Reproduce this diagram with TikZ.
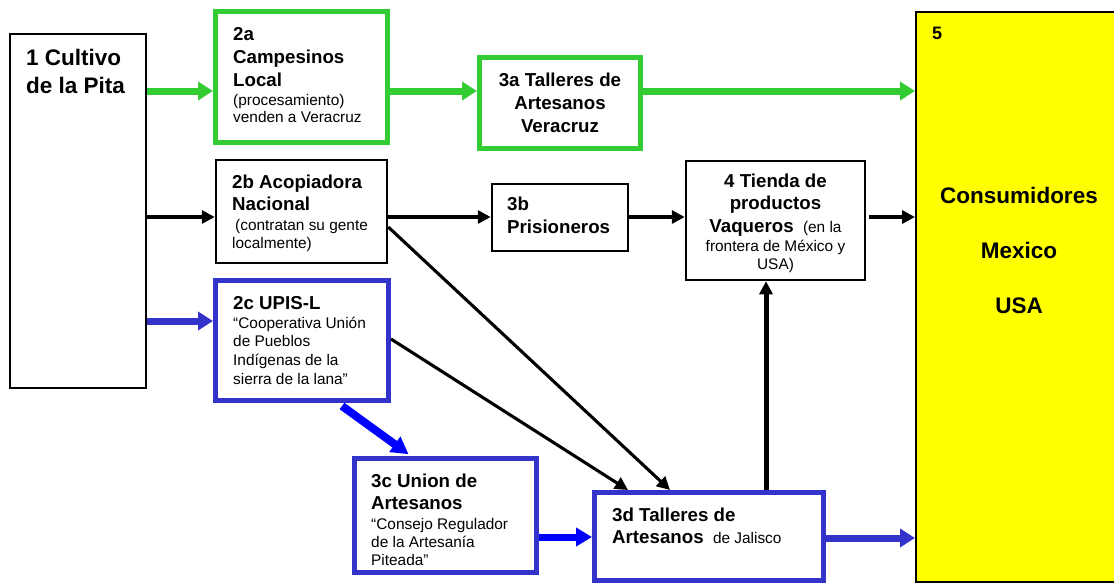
\documentclass[tikz,border=0pt]{standalone}
\usepackage{fontspec}
\setmainfont{Liberation Sans}
\usetikzlibrary{arrows.meta}
\definecolor{gr}{HTML}{33CC33}
\definecolor{bl}{HTML}{3333CC}
\definecolor{bb}{HTML}{0000FF}
\definecolor{yl}{HTML}{FFFF00}
\newcommand\fB{\fontsize{18.7}{23}\selectfont\bfseries}
\newcommand\fR{\fontsize{15.4}{17.7}\selectfont\mdseries}
\newcommand\fL{\fontsize{22.5}{28}\selectfont\bfseries}
\tikzset{
  kbox/.style={draw=black, line width=2.5pt, fill=white, inner sep=0pt},
  gbox/.style={draw=gr, line width=5pt, fill=white, inner sep=0pt},
  bbox/.style={draw=bl, line width=5pt, fill=white, inner sep=0pt},
  txt/.style={inner sep=0pt, font=\fB, align=left, anchor=north west},
  ctxt/.style={inner sep=0pt, font=\fB, align=center, anchor=north},
  garr/.style={draw=gr, line width=7pt, -{Triangle[length=15pt,width=18pt]}},
  karr/.style={draw=black, line width=4.7pt, -{Triangle[length=13pt,width=13pt]}},
  tarr/.style={draw=black, line width=3.1pt, -{Triangle[length=13pt,width=13pt]}},
  barr/.style={draw=bl, line width=7pt, -{Triangle[length=15pt,width=18pt]}},
  bbarr/.style={draw=bb, line width=7pt, -{Triangle[length=16pt,width=18pt]}}
}
\begin{document}
\begin{tikzpicture}[x=1pt, y=-1pt]
\useasboundingbox (0,0) rectangle (1114,584);
% boxes
\node[kbox, minimum width=136pt, minimum height=354pt] (b1) at (78,211) {};
\node[gbox, minimum width=172pt, minimum height=131pt] (b2a) at (301.5,77) {};
\node[gbox, minimum width=161pt, minimum height=91pt] (b3a) at (560,103) {};
\node[kbox, minimum width=171pt, minimum height=103pt] (b2b) at (301.5,211.5) {};
\node[kbox, minimum width=136pt, minimum height=67pt] (b3b) at (560,217.5) {};
\node[kbox, minimum width=179pt, minimum height=119pt] (b4) at (775.5,220.5) {};
\node[draw=black, line width=2pt, fill=yl, inner sep=0pt, minimum width=204pt, minimum height=570pt] (b5) at (1018,297) {};
\node[bbox, minimum width=173pt, minimum height=120pt] (b2c) at (302,340.5) {};
\node[bbox, minimum width=182pt, minimum height=114pt] (b3c) at (445.5,515.5) {};
\node[bbox, minimum width=229pt, minimum height=88pt] (b3d) at (709,536.5) {};
% texts
\node[txt, font=\fL] (t1) at (26,49) {1 Cultivo\\de la Pita};
\node[txt] (t2a) at (233,27) {2a\\Campesinos\\Local\\[-4pt]{\fR (procesamiento)}\\[-5.3pt]{\fR venden a Veracruz}};
\node[ctxt] (t3a) at (560,72.6) {3a Talleres de\\Artesanos\\Veracruz};
\node[txt] (t2b) at (232,175) {2b Acopiadora\\[-1pt]Nacional\\[-3pt]{\fR\hspace{3pt}(contratan su gente}\\[-5pt]{\fR localmente)}};
\node[txt] (t3b) at (507,196.6) {3b\\[-0.3pt]Prisioneros};
\node[ctxt] (t4) at (775.5,173.6) {4 Tienda de\\[-0.5pt]productos\\Vaqueros\hspace{0.5em}{\fR (en la}\\[-4pt]{\fR frontera de México y}\\[-5pt]{\fR USA)}};
\node[txt, font=\fontsize{18}{22}\selectfont\bfseries] (t5) at (932,27) {5};
\node[ctxt, font=\fL] (t5b) at (1019,187) {Consumidores\\[27pt]Mexico\\[27pt]USA};
\node[txt] (t2c) at (233,296) {2c UPIS-L\\[-4pt]{\fR “Cooperativa Unión}\\[-4.4pt]{\fR de Pueblos}\\[-4.4pt]{\fR Indígenas de la}\\[-4.4pt]{\fR sierra de la lana”}};
\node[txt] (t3c) at (371,473.3) {3c Union de\\[-0.3pt]Artesanos\\[-3pt]{\fR “Consejo Regulador}\\[-5pt]{\fR de la Artesanía}\\[-5pt]{\fR Piteada”}};
\node[txt] (t3d) at (612,507.3) {3d Talleres de\\[-0.3pt]Artesanos\hspace{0.5em}{\fR de Jalisco}};
% helper coordinates
\coordinate (yg) at (0,91);
\coordinate (yk) at (0,217);
\coordinate (yb) at (0,321);
\coordinate (yd1) at (0,227);
\coordinate (yd2) at (0,339);
\coordinate (xd1) at (670,0);
\coordinate (xd2) at (628,0);
\coordinate (xv) at (766,0);
\coordinate (xs) at (342,0);
\coordinate (xe) at (411,0);
\coordinate (yc) at (0,537);
\coordinate (ye) at (0,538);
% green
\draw[garr] (b1.east |- yg) -- (b2a.west |- yg);
\draw[garr] (b2a.east |- yg) -- (b3a.west |- yg);
\draw[garr] (b3a.east |- yg) -- (b5.west |- yg);
% black
\draw[karr] (b1.east |- yk) -- (b2b.west |- yk);
\draw[karr] (b2b.east |- yk) -- (b3b.west |- yk);
\draw[karr] (b3b.east |- yk) -- (b4.west |- yk);
\draw[karr] ([xshift=3pt]b4.east |- yk) -- (b5.west |- yk);
\draw[tarr] (b2b.east |- yd1) -- (b3d.north -| xd1);
\draw[tarr] (b2c.east |- yd2) -- (b3d.north -| xd2);
\draw[karr, line width=5pt] (b3d.north -| xv) -- (b4.south -| xv);
% blue
\draw[barr] (b1.east |- yb) -- (b2c.west |- yb);
\draw[bbarr, line width=8pt, -{Triangle[length=17pt,width=18pt]}, shorten >=3pt] ([yshift=-3pt]b2c.south -| xs) -- (b3c.north -| xe);
\draw[bbarr] (b3c.east |- yc) -- (b3d.west |- yc);
\draw[barr] (b3d.east |- ye) -- (b5.west |- ye);
\end{tikzpicture}
\end{document}
